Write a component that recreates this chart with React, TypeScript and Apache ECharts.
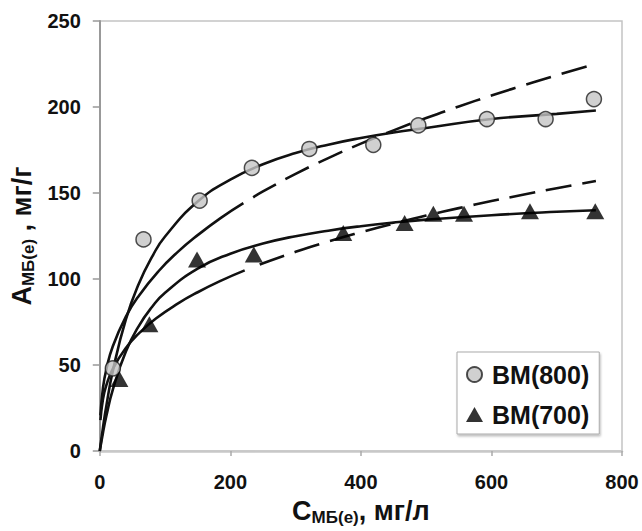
import React, { useEffect, useRef } from "react";
import * as echarts from "echarts";

// Experimental points
const bm800: [number, number][] = [
  [20, 48], [67, 123], [153, 145.6], [233, 164.6], [321, 175.6], [419, 178],
  [488, 189.3], [593, 193], [683, 193], [757, 204.6],
];
const bm700: [number, number][] = [
  [30, 41.8], [76, 73.7], [149, 111.4], [236, 114.3], [373, 126.8], [467, 132.6],
  [511, 138], [558, 138], [659, 139.4], [759, 139.4],
];

// Fitted curves (solid = Langmuir, dashed = Freundlich)
const solid800: [number, number][] = [
  [0, 0], [5, 13.9], [10, 26.1], [20, 46.5], [40, 76.5], [60, 97.4], [80, 112.8],
  [100, 124.7], [150, 145], [200, 157.8], [250, 166.7], [300, 173.2], [350, 178.1],
  [400, 182], [450, 185.2], [500, 187.8], [600, 193], [700, 196], [760, 198],
];
const solid700: [number, number][] = [
  [0, 0], [5, 10.8], [10, 20.2], [20, 35.7], [40, 57.8], [60, 72.8], [80, 83.7],
  [100, 92], [150, 106], [200, 114.7], [250, 120.6], [300, 124.9], [350, 128.1],
  [400, 130.7], [450, 132.8], [500, 134.5], [600, 137.1], [700, 139.1], [760, 140],
];
const dashed800Head: [number, number][] = [
  [1, 20.7], [5, 37], [10, 47.4], [20, 60.9], [40, 78.1], [60, 90.3], [90, 104.5],
  [120, 115.9], [150, 125.5], [185, 135.4], [220, 144.1],
];
const dashed800Tail: [number, number][] = [
  [235, 147.5], [250, 150.9], [300, 161.1], [350, 170.3], [400, 178.7], [450, 186.4],
  [500, 193.6], [550, 200.3], [600, 206.7], [650, 212.7], [700, 218.5], [760, 225],
];
const dashed700Head: [number, number][] = [
  [1, 17.9], [5, 30.4], [10, 38.1], [20, 47.8], [40, 59.9], [60, 68.4], [86, 77],
  [120, 85.8], [150, 92.3], [185, 98.9], [222, 105],
];
const dashed700Tail: [number, number][] = [
  [245, 108.4], [300, 115.8], [350, 121.8], [400, 127.2], [450, 132.2], [500, 136.9],
  [550, 141.2], [600, 145.3], [650, 149.1], [700, 152.8], [760, 157],
];

const xTicks = { min: 0, max: 800, interval: 200 };
const yTicks = { min: 0, max: 250, interval: 50 };
const legendNames = ["BM(800)", "BM(700)"];

const FONT = "'Liberation Sans', Arial, sans-serif";

export default function App() {
  const ref = useRef<HTMLDivElement>(null);
  useEffect(() => {
    if (!ref.current) return;
    const chart = echarts.init(ref.current, undefined, { renderer: "svg" });
    const lineBase = (data: [number, number][], dashed: boolean) => ({
      type: "line",
      data,
      smooth: true,
      showSymbol: false,
      symbol: "none",
      silent: true,
      z: 2,
      lineStyle: {
        color: "#111",
        width: 2.6,
        type: dashed ? [26, 11] : "solid",
      },
    });
    const nameRich = {
      a: { fontSize: 27, fontWeight: "bold", fontFamily: FONT, color: "#111", lineHeight: 30 },
      b: { fontSize: 17, fontWeight: "bold", fontFamily: FONT, color: "#111", lineHeight: 17, verticalAlign: "bottom" },
    };
    chart.setOption({
      animation: false,
      backgroundColor: "#fff",
      grid: {
        left: 98,
        right: 20,
        top: 21,
        bottom: 79,
        show: true,
        borderColor: "#c4c4c4",
        borderWidth: 1.5,
      },
      xAxis: {
        type: "value",
        min: xTicks.min,
        max: xTicks.max,
        interval: xTicks.interval,
        splitLine: { show: false },
        axisLine: { show: true, onZero: false, lineStyle: { color: "#c8c8c8", width: 2.5 } },
        axisTick: { show: true, length: 5, lineStyle: { color: "#aaa", width: 1.5 } },
        axisLabel: { margin: 21, fontSize: 20, fontWeight: "bold", fontFamily: FONT, color: "#111" },
        name: "{a|C}{b|МБ(е)}{a|, мг/л}",
        nameLocation: "middle",
        nameGap: 45,
        nameTextStyle: { rich: nameRich },
      },
      yAxis: {
        type: "value",
        min: yTicks.min,
        max: yTicks.max,
        interval: yTicks.interval,
        splitLine: { show: false },
        axisLine: { show: true, onZero: false, lineStyle: { color: "#999", width: 2 } },
        axisTick: { show: true, length: 7, lineStyle: { color: "#999", width: 1.5 } },
        axisLabel: { margin: 19, fontSize: 20, fontWeight: "bold", fontFamily: FONT, color: "#111" },
        name: "{a|A}{b|МБ(е)}{a| , мг/г}",
        nameLocation: "middle",
        nameRotate: 90,
        nameGap: 60,
        nameTextStyle: { rich: nameRich },
      },
      legend: {
        data: legendNames,
        orient: "vertical",
        left: 457,
        top: 352,
        padding: [9, 10, 6, 9],
        itemGap: 13,
        itemWidth: 17,
        itemHeight: 15,
        borderColor: "#aaa",
        borderWidth: 1,
        backgroundColor: "#fff",
        shadowColor: "rgba(0,0,0,0.25)",
        shadowBlur: 2,
        shadowOffsetX: 1,
        shadowOffsetY: 2,
        textStyle: {
          fontSize: 25,
          fontWeight: "bold",
          fontFamily: FONT,
          color: "#111",
          lineHeight: 27,
          padding: [0, 0, 0, 4],
        },
        selectedMode: false,
      },
      series: [
        lineBase(solid800, false),
        lineBase(dashed800Head, false),
        lineBase(dashed800Tail, true),
        lineBase(solid700, false),
        lineBase(dashed700Head, false),
        lineBase(dashed700Tail, true),
        {
          name: legendNames[0],
          type: "scatter",
          data: bm800,
          symbol: "circle",
          symbolSize: 15,
          z: 5,
          itemStyle: { color: "#c4c4c4", borderColor: "#222", borderWidth: 1.5 },
        },
        {
          name: legendNames[1],
          type: "scatter",
          data: bm700,
          symbol: "triangle",
          symbolSize: [18, 16],
          z: 5,
          itemStyle: { color: "#000" },
        },
      ],
    });
    return () => chart.dispose();
  }, []);
  return (
    <div
      ref={ref}
      style={{ position: "fixed", left: 0, top: 0, width: 642, height: 531 }}
    />
  );
}
